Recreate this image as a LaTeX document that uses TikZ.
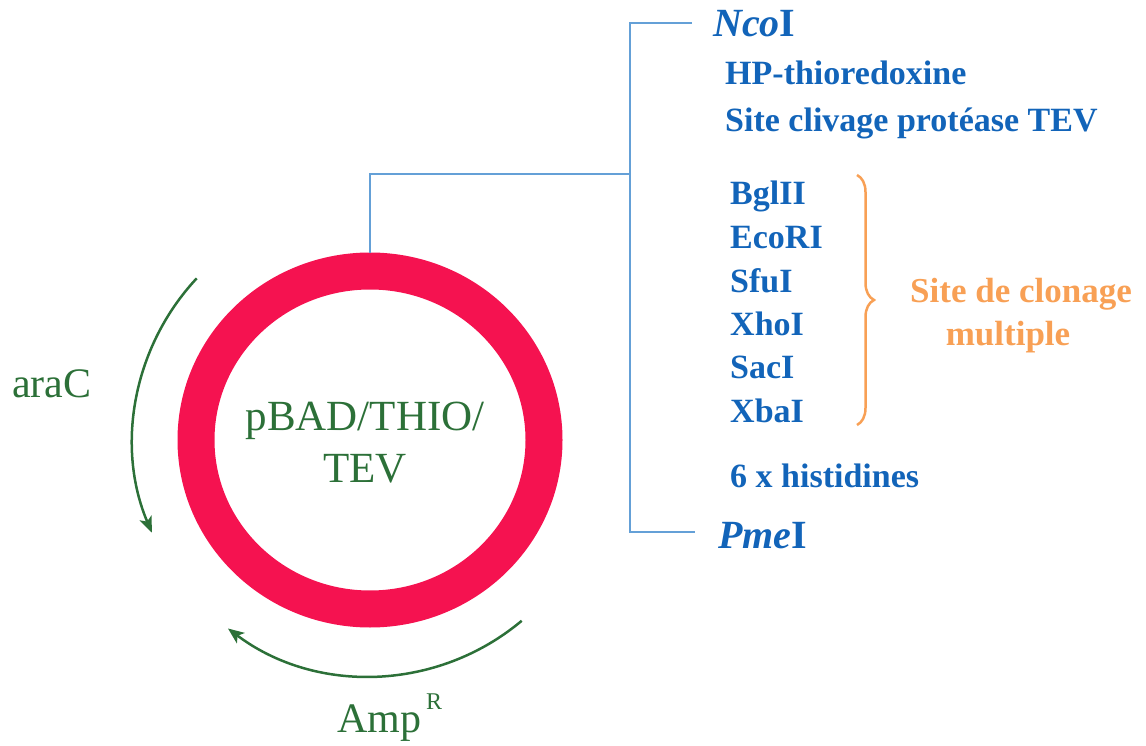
\documentclass[tikz,border=0pt]{standalone}
\usepackage{fontspec}
\setmainfont{Liberation Serif}
\usetikzlibrary{arrows.meta,decorations.pathreplacing}
\definecolor{ringred}{RGB}{245,18,80}
\definecolor{txtgreen}{RGB}{44,112,56}
\definecolor{txtblue}{RGB}{18,100,185}
\definecolor{lineblue}{RGB}{100,160,215}
\definecolor{orangec}{RGB}{248,160,85}
\begin{document}
\begin{tikzpicture}[x=1pt,y=-1pt,
  bluelbl/.style={inner sep=0pt, anchor=base west, text=txtblue, font=\fontsize{34}{40}\selectfont\bfseries},
  enzlbl/.style={inner sep=0pt, anchor=base west, text=txtblue, font=\fontsize{40}{46}\selectfont\bfseries},
  greenlbl/.style={inner sep=0pt, text=txtgreen, font=\fontsize{43}{50}\selectfont},
  orlbl/.style={inner sep=0pt, anchor=base, text=orangec, font=\fontsize{35}{40}\selectfont\bfseries},
  connector/.style={draw=lineblue, line width=2pt},
  genearrow/.style={draw=txtgreen, line width=2.5pt, -{Stealth[length=16pt,width=13pt,inset=4pt]}}
]
\useasboundingbox (0,0) rectangle (1146,746);
% plasmid ring
\draw[ringred, line width=37pt] (370,440) ellipse [x radius=174, y radius=169];
\coordinate (ringtop) at (370,253);
\node[greenlbl, anchor=base] (name1) at (365,430) {pBAD/THIO/};
\node[greenlbl, anchor=base] (name2) at (365,482) {TEV};
% gene arrows
\coordinate (araCstart) at ({370+237*cos(137)},{440-237*sin(137)});
\draw[genearrow] (araCstart) arc[start angle=-137, end angle=-203, radius=237];
\coordinate (ampstart) at ({370+236*cos(310)},{440-236*sin(310)});
\draw[genearrow] (ampstart) arc[start angle=-310, end angle=-233, radius=236];
\node[greenlbl, anchor=base west, font=\fontsize{42}{48}\selectfont] (arac) at (12,397) {araC};
\node[greenlbl, anchor=base west, font=\fontsize{42}{48}\selectfont] (amp) at (337,732) {Amp};
\node[greenlbl, anchor=base west, font=\fontsize{24}{28}\selectfont] (ampR) at (426,709) {R};
% blue connectors
\coordinate (ctop) at (630,23);
\coordinate (cbot) at (630,532);
\coordinate (cmid) at (630,174);
\coordinate (rmid) at (370,174);
\coordinate (etop) at (692,23);
\coordinate (ebot) at (695,532);
\draw[connector] (etop) -- (ctop) -- (cbot) -- (ebot);
\draw[connector] (ringtop) -- (rmid) -- (cmid);
% labels
\node[enzlbl] (nco) at (713,37) {\textit{Nco}I};
\node[bluelbl] (hp) at (725,85) {HP-thioredoxine};
\node[bluelbl] (tev) at (725,132) {Site clivage protéase TEV};
\node[bluelbl] (bgl) at (730,205) {BglII};
\node[bluelbl] (eco) at (730,248) {EcoRI};
\node[bluelbl] (sfu) at (730,292) {SfuI};
\node[bluelbl] (xho) at (730,335) {XhoI};
\node[bluelbl] (sac) at (730,378) {SacI};
\node[bluelbl] (xba) at (730,422) {XbaI};
\node[bluelbl] (his) at (730,487) {6 x histidines};
\node[enzlbl] (pme) at (718,548) {\textit{Pme}I};
% brace
\coordinate (btop) at (857,175);
\coordinate (bbot) at (857,425);
\draw[orangec, line width=2.5pt, decorate, decoration={brace, amplitude=17pt}] (btop) -- (bbot);
\node[orlbl] (mcs1) at (1021,302) {Site de clonage};
\node[orlbl] (mcs2) at (1008,345) {multiple};
\end{tikzpicture}
\end{document}
